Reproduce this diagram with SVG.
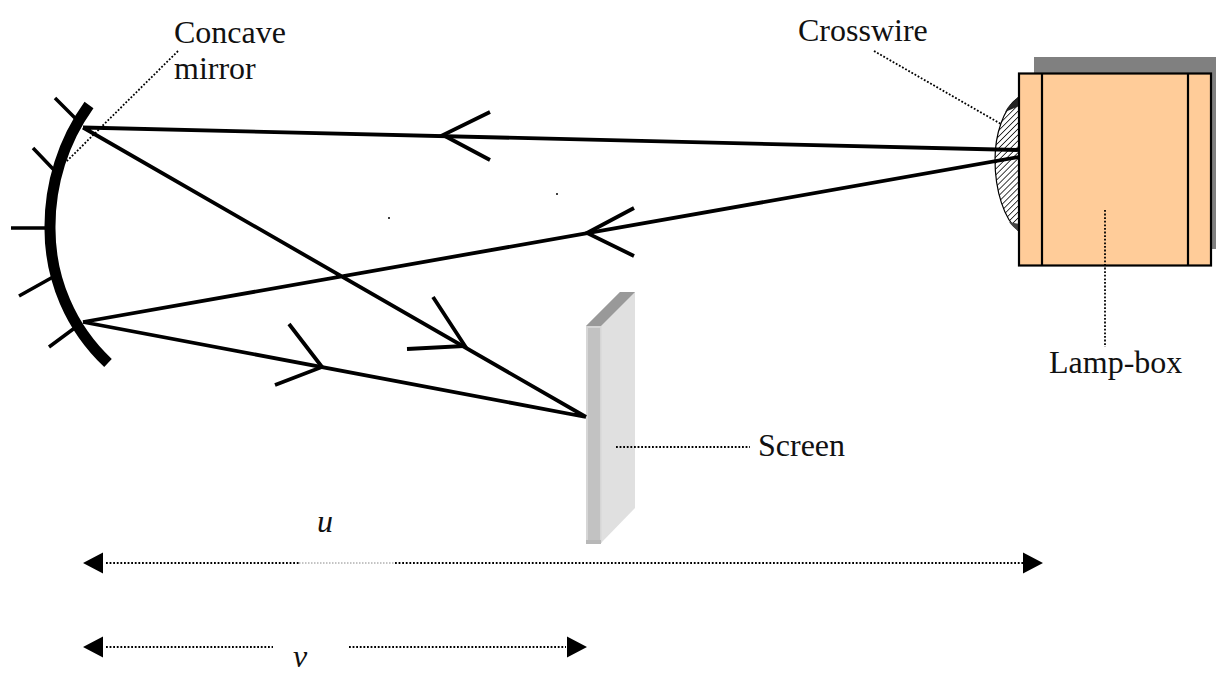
<svg xmlns="http://www.w3.org/2000/svg" width="1216" height="675" viewBox="0 0 1216 675">
<style>
text{font-family:"Liberation Serif","Times New Roman",serif;font-size:32px;fill:#111}
.i{font-style:italic}
.ray{fill:none;stroke:#000;stroke-width:3.800}
.tick{fill:none;stroke:#000;stroke-width:3.500}
.dot{fill:none;stroke:#000;stroke-width:1.800;stroke-dasharray:1.800 1.800}
.box{stroke:#000;stroke-width:2.200}
</style>
<defs>
<pattern id="hatch" width="4.200" height="4.200" patternUnits="userSpaceOnUse" patternTransform="rotate(45)">
<rect width="4.200" height="4.200" fill="#fff"/><line x1="0" y1="0" x2="0" y2="4.200" stroke="#000" stroke-width="1.500"/>
</pattern>
</defs>
<rect x="0" y="0" width="1216" height="675" fill="#fff"/>
<g id="lamp-box">
<rect x="1034" y="57" width="182" height="192" fill="#808080"/>
<path d="M1019 97C1003 108 995 135 995 160C995 190 1004 220 1019 231Z" fill="url(#hatch)" stroke="#000" stroke-width="1.200"/>
<path d="M1019 97C1013 101 1008 106 1005 112L1019 106Z" fill="#222"/>
<path d="M1019 231C1015 229 1012 226 1009 222L1019 224Z" fill="#444"/>
<rect class="box" x="1019" y="73.500" width="192" height="192" fill="#fc9"/>
<path d="M1042 73.500V265.500M1188 73.500V265.500" class="box" fill="none"/>
</g>
<g id="mirror">
<path d="M89 105A208 208 0 0 0 50 228A184 184 0 0 0 108 363" fill="none" stroke="#000" stroke-width="11"/>
<path class="tick" d="M55 98L81 124M33 148L54 170M11 228H46M19 296L53 277M49 347L76 327"/>
</g>
<g id="screen">
<path d="M586 326L620 292H635V508L601 543H586Z" fill="#e0e0e0"/>
<path d="M586 326L620 292H635L601 326Z" fill="#999"/>
<rect x="586" y="326" width="15.500" height="217" fill="#d6d6d6"/>
<rect x="588" y="328" width="12" height="213" fill="#c2c2c2"/>
<rect x="586" y="540" width="15" height="4" fill="#b8b8b8"/>
</g>
<g id="connectors">
<path class="ray" d="M83 127.500L1019 150M1019 157L83 322M83 127.500L586 417M83 322L586 417"/>
<path class="ray" d="M490 112L443 135L490 160M634 208L587 233L634 256M433 297L465 346L407 349M289 324L322 367L275 385"/>
<path class="dot" d="M178 51L66 162M874 51L1001 124M1105 210V347M616 447H750"/>
<path class="dot" d="M106 563H299M395 563H1024"/>
<path d="M299 563H395" fill="none" stroke="#888" stroke-width="1" stroke-dasharray="1.500 1.500"/>
<path class="dot" d="M106 647H273M349 647H566"/>
<path d="M83 563L103 552.500V573.500ZM1043 563L1023 552.500V573.500ZM83 647L103 636.500V657.500ZM587 647L567 636.500V657.500Z" fill="#000"/>
<circle cx="557" cy="194" r="1"/><circle cx="389" cy="218" r="1"/>
</g>
<g id="labels">
<text x="174" y="43">Concave</text>
<text x="174" y="79">mirror</text>
<text x="798" y="41">Crosswire</text>
<text x="1049" y="373">Lamp-box</text>
<text x="758" y="456">Screen</text>
<text class="i" x="317" y="532">u</text>
<text class="i" x="293" y="667">v</text>
</g>
</svg>
